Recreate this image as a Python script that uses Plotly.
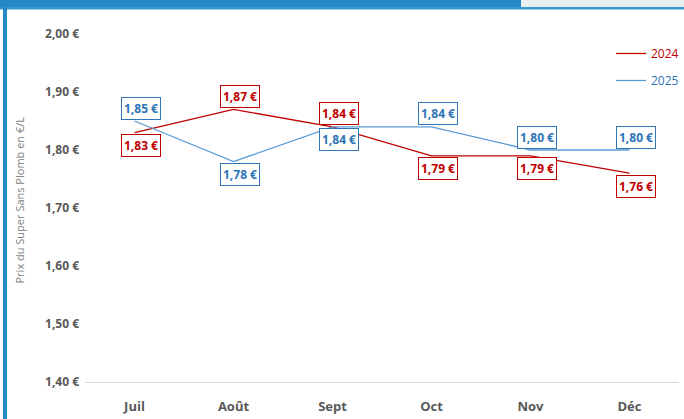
import plotly.graph_objects as go

# Données
mois = ["Juil", "Août", "Sept", "Oct", "Nov", "Déc"]
prix_2024 = [1.83, 1.87, 1.84, 1.79, 1.79, 1.76]
prix_2025 = [1.85, 1.78, 1.84, 1.84, 1.80, 1.80]
pos_2024 = ["below", "above", "above", "below", "below", "below"]
pos_2025 = ["above", "below", "below", "above", "above", "above"]
y_ticks = [1.40, 1.50, 1.60, 1.70, 1.80, 1.90, 2.00]
y_ticklabels = ["1,40 €", "1,50 €", "1,60 €", "1,70 €", "1,80 €", "1,90 €", "2,00 €"]

ROUGE = "#C00000"
BLEU_TXT = "#2E75B6"
BLEU_LIGNE = "#5B9BD5"
BLEU_CADRE = "#2389C6"

W, H = 684, 419
L, R, T, B = 85, 5, 34, 37
PW, PH = W - L - R, H - T - B


def px(x):
    return (x - L) / PW


def py(y):
    return (H - B - y) / PH


def eur(v):
    return f"{v:.2f} €".replace(".", ",")


fig = go.Figure()

fig.add_trace(go.Scatter(
    x=mois, y=prix_2024, mode="lines",
    name=f"<span style='color:{ROUGE}'>2024</span>",
    line=dict(color=ROUGE, width=1.3), legendgroup="a",
))
fig.add_trace(go.Scatter(
    x=mois, y=prix_2025, mode="lines",
    name=f"<span style='color:{BLEU_TXT}'>2025</span>",
    line=dict(color=BLEU_LIGNE, width=1.3), legendgroup="b",
))

# Étiquettes de données
for vals, pos, col in [(prix_2024, pos_2024, ROUGE), (prix_2025, pos_2025, BLEU_TXT)]:
    for m, v, p in zip(mois, vals, pos):
        fig.add_annotation(
            x=m, y=v, text=f"<b>{eur(v)}</b>", showarrow=False,
            xshift=6, yshift=13 if p == "above" else -13,
            font=dict(family="Open Sans", size=12, color=col),
            bgcolor="white", bordercolor=col, borderwidth=1, borderpad=2,
        )

# Titre de l'axe Y
fig.add_annotation(
    xref="paper", yref="paper", x=px(9), y=py(200),
    text="Prix du Super Sans Plomb en €/L", textangle=-90, showarrow=False,
    font=dict(family="Open Sans", size=11, color="#7F7F7F"),
)

# Cadre décoratif
fig.add_shape(type="rect", xref="paper", yref="paper", x0=px(521), x1=px(W), y0=py(0), y1=py(8),
              fillcolor="#E9EEF1", line_width=0, layer="below")
fig.add_shape(type="rect", xref="paper", yref="paper", x0=px(0), x1=px(521), y0=py(0), y1=py(8),
              fillcolor=BLEU_CADRE, line_width=0)
fig.add_shape(type="rect", xref="paper", yref="paper", x0=px(0), x1=px(W), y0=py(7), y1=py(9.5),
              fillcolor="#3A98D0", line_width=0)
fig.add_shape(type="rect", xref="paper", yref="paper", x0=px(3), x1=px(7), y0=py(7), y1=py(H),
              fillcolor=BLEU_CADRE, line_width=0)

fig.update_layout(
    width=W, height=H,
    margin=dict(l=L, r=R, t=T, b=B, autoexpand=False),
    paper_bgcolor="white", plot_bgcolor="white",
    font=dict(family="Open Sans", color="#595959"),
    legend=dict(
        xref="container", yref="container",
        x=1.0, xanchor="right", y=1 - 39 / H, yanchor="top",
        bgcolor="rgba(0,0,0,0)", font=dict(size=12),
        itemwidth=30, tracegroupgap=8,
    ),
    showlegend=True,
)
fig.update_xaxes(
    showgrid=False, showline=True, linecolor="#D9D9D9", linewidth=1,
    ticks="", ticklabelstandoff=12,
    tickfont=dict(size=13, color="#595959", family="Open Sans", weight="bold"),
    range=[-0.5, 5.5], zeroline=False,
)
fig.update_yaxes(
    range=[1.40, 2.00], tickvals=y_ticks, ticktext=y_ticklabels,
    showgrid=False, zeroline=False, showline=False, ticks="",
    ticklabelstandoff=5,
    tickfont=dict(size=12, color="#595959", family="Open Sans", weight="bold"),
)

fig.write_html("out.html", config={"displayModeBar": False},
               post_script="document.body.style.margin='0';")
